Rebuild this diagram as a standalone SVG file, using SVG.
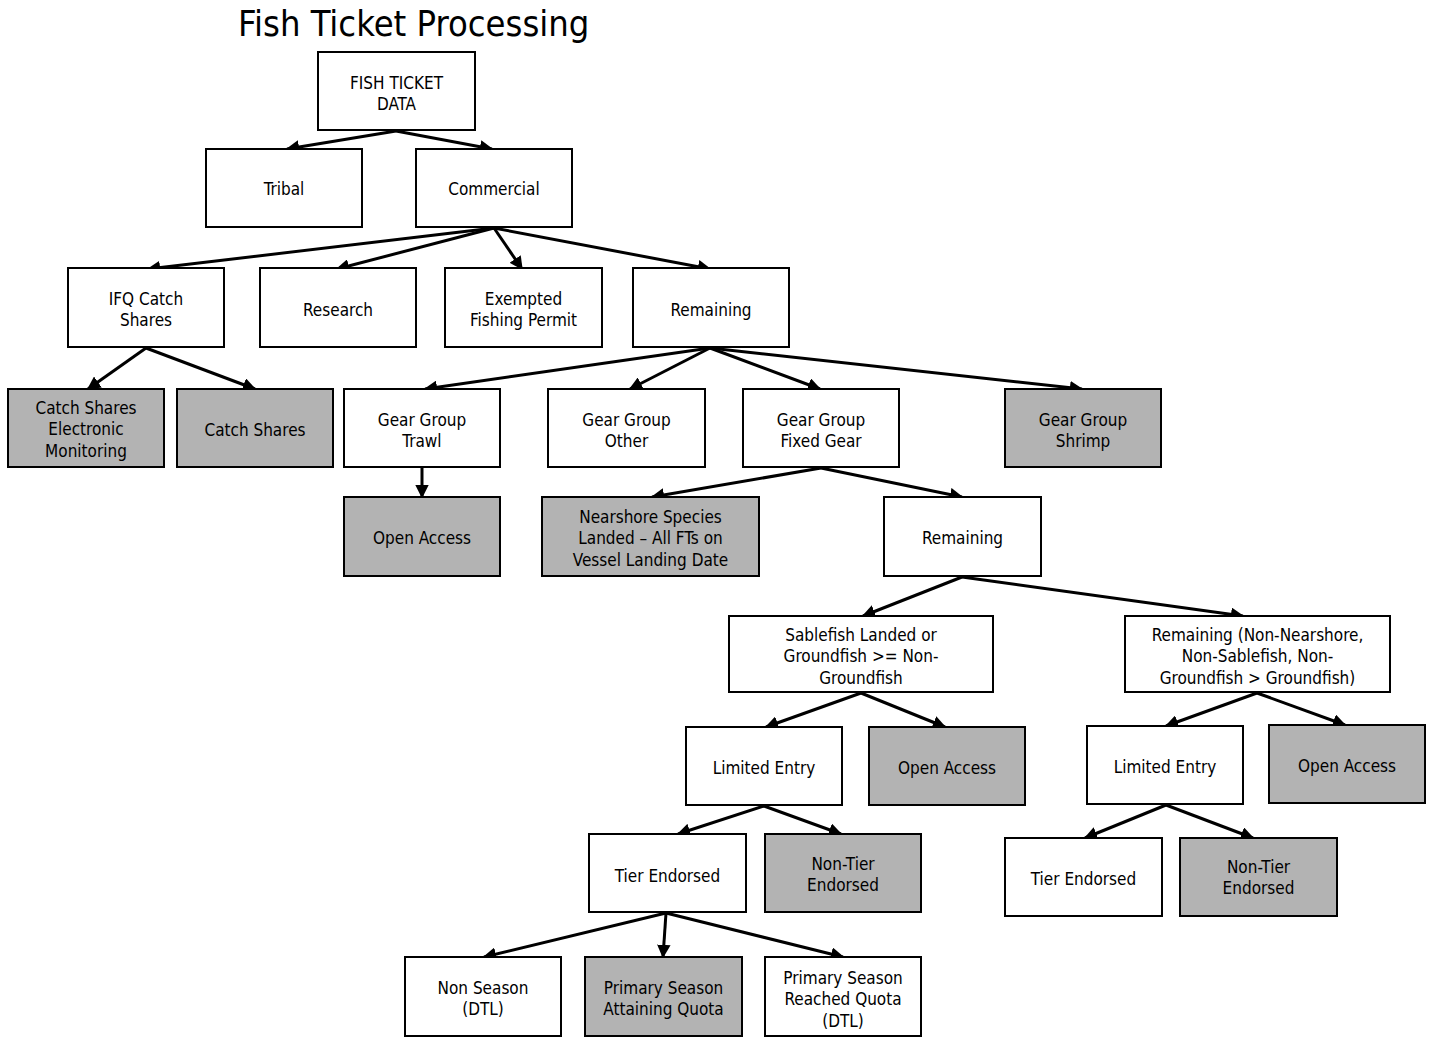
<svg xmlns="http://www.w3.org/2000/svg" width="1435" height="1038" viewBox="0 0 1435 1038">
<style>
.b{fill:#fff;stroke:#000;stroke-width:2}
.g{fill:#b3b3b3;stroke:#000;stroke-width:2}
text{font-family:"DejaVu Sans Condensed","DejaVu Sans",sans-serif;font-size:17px;fill:#000;text-anchor:middle}
.t{font-size:36px;text-anchor:start}
.c line{stroke:#000;stroke-width:3;marker-end:url(#a)}
</style>
<defs>
<marker id="a" viewBox="0 0 10 10" refX="9" refY="5" markerWidth="4.5" markerHeight="4.5" markerUnits="strokeWidth" orient="auto">
<path d="M0,0 L10,5 L0,10 z" fill="#000"/>
</marker>
</defs>
<rect width="1435" height="1038" fill="#fff"/>
<text class="t" x="238" y="36">Fish Ticket Processing</text>

<g class="c">
<line x1="396" y1="131" x2="287" y2="149"/>
<line x1="396" y1="131" x2="492" y2="149"/>
<line x1="494" y1="228" x2="148" y2="269"/>
<line x1="494" y1="228" x2="337" y2="269"/>
<line x1="494" y1="228" x2="522" y2="269"/>
<line x1="494" y1="228" x2="710" y2="269"/>
<line x1="146" y1="348" x2="88" y2="389"/>
<line x1="146" y1="348" x2="255" y2="389"/>
<line x1="710" y1="348" x2="425" y2="389"/>
<line x1="710" y1="348" x2="630" y2="389"/>
<line x1="710" y1="348" x2="820" y2="389"/>
<line x1="710" y1="348" x2="1082" y2="389"/>
<line x1="422" y1="468" x2="422" y2="497"/>
<line x1="821" y1="468" x2="652" y2="497"/>
<line x1="821" y1="468" x2="962" y2="497"/>
<line x1="962" y1="577" x2="863" y2="616"/>
<line x1="962" y1="577" x2="1243" y2="616"/>
<line x1="861" y1="693" x2="766" y2="727"/>
<line x1="861" y1="693" x2="945" y2="727"/>
<line x1="1257" y1="693" x2="1166" y2="726"/>
<line x1="1257" y1="693" x2="1345" y2="725"/>
<line x1="764" y1="806" x2="678" y2="834"/>
<line x1="764" y1="806" x2="841" y2="834"/>
<line x1="1166" y1="805" x2="1085" y2="838"/>
<line x1="1166" y1="805" x2="1253" y2="838"/>
<line x1="666" y1="913" x2="484" y2="957"/>
<line x1="666" y1="913" x2="663" y2="957"/>
<line x1="666" y1="913" x2="843" y2="957"/>
</g>

<g id="n-ftd"><rect class="b" x="318" y="52" width="157" height="78"/><text x="396.5" y="89">FISH TICKET</text><text x="396.5" y="110">DATA</text></g>
<g id="n-tribal"><rect class="b" x="206" y="149" width="156" height="78"/><text x="284" y="195">Tribal</text></g>
<g id="n-commercial"><rect class="b" x="416" y="149" width="156" height="78"/><text x="494" y="195">Commercial</text></g>
<g id="n-ifq"><rect class="b" x="68" y="268" width="156" height="79"/><text x="146" y="305">IFQ Catch</text><text x="146" y="326">Shares</text></g>
<g id="n-research"><rect class="b" x="260" y="268" width="156" height="79"/><text x="338" y="316">Research</text></g>
<g id="n-efp"><rect class="b" x="445" y="268" width="157" height="79"/><text x="523.5" y="305">Exempted</text><text x="523.5" y="326">Fishing Permit</text></g>
<g id="n-remaining1"><rect class="b" x="633" y="268" width="156" height="79"/><text x="711" y="316">Remaining</text></g>
<g id="n-csem"><rect class="g" x="8" y="389" width="156" height="78"/><text x="86" y="414">Catch Shares</text><text x="86" y="435">Electronic</text><text x="86" y="457">Monitoring</text></g>
<g id="n-cs"><rect class="g" x="177" y="389" width="156" height="78"/><text x="255" y="436">Catch Shares</text></g>
<g id="n-trawl"><rect class="b" x="344" y="389" width="156" height="78"/><text x="422" y="426">Gear Group</text><text x="422" y="447">Trawl</text></g>
<g id="n-other"><rect class="b" x="548" y="389" width="157" height="78"/><text x="626.5" y="426">Gear Group</text><text x="626.5" y="447">Other</text></g>
<g id="n-fixed"><rect class="b" x="743" y="389" width="156" height="78"/><text x="821" y="426">Gear Group</text><text x="821" y="447">Fixed Gear</text></g>
<g id="n-shrimp"><rect class="g" x="1005" y="389" width="156" height="78"/><text x="1083" y="426">Gear Group</text><text x="1083" y="447">Shrimp</text></g>
<g id="n-oa-trawl"><rect class="g" x="344" y="497" width="156" height="79"/><text x="422" y="544">Open Access</text></g>
<g id="n-nearshore"><rect class="g" x="542" y="497" width="217" height="79"/><text x="650.5" y="523">Nearshore Species</text><text x="650.5" y="544">Landed – All FTs on</text><text x="650.5" y="566">Vessel Landing Date</text></g>
<g id="n-remaining2"><rect class="b" x="884" y="497" width="157" height="79"/><text x="962.5" y="544">Remaining</text></g>
<g id="n-sablefish"><rect class="b" x="729" y="616" width="264" height="76"/><text x="861" y="641">Sablefish Landed or</text><text x="861" y="662">Groundfish &gt;= Non-</text><text x="861" y="684">Groundfish</text></g>
<g id="n-remaining3"><rect class="b" x="1125" y="616" width="265" height="76"/><text x="1257.5" y="641">Remaining (Non-Nearshore,</text><text x="1257.5" y="662">Non-Sablefish, Non-</text><text x="1257.5" y="684">Groundfish &gt; Groundfish)</text></g>
<g id="n-le1"><rect class="b" x="686" y="727" width="156" height="78"/><text x="764" y="774">Limited Entry</text></g>
<g id="n-oa1"><rect class="g" x="869" y="727" width="156" height="78"/><text x="947" y="774">Open Access</text></g>
<g id="n-le2"><rect class="b" x="1087" y="726" width="156" height="78"/><text x="1165" y="773">Limited Entry</text></g>
<g id="n-oa2"><rect class="g" x="1269" y="725" width="156" height="78"/><text x="1347" y="772">Open Access</text></g>
<g id="n-tier1"><rect class="b" x="589" y="834" width="157" height="78"/><text x="667.5" y="882">Tier Endorsed</text></g>
<g id="n-nontier1"><rect class="g" x="765" y="834" width="156" height="78"/><text x="843" y="870">Non-Tier</text><text x="843" y="891">Endorsed</text></g>
<g id="n-tier2"><rect class="b" x="1005" y="838" width="157" height="78"/><text x="1083.5" y="885">Tier Endorsed</text></g>
<g id="n-nontier2"><rect class="g" x="1180" y="838" width="157" height="78"/><text x="1258.5" y="873">Non-Tier</text><text x="1258.5" y="894">Endorsed</text></g>
<g id="n-nonseason"><rect class="b" x="405" y="957" width="156" height="79"/><text x="483" y="994">Non Season</text><text x="483" y="1015">(DTL)</text></g>
<g id="n-psa"><rect class="g" x="585" y="957" width="157" height="79"/><text x="663.5" y="994">Primary Season</text><text x="663.5" y="1015">Attaining Quota</text></g>
<g id="n-psr"><rect class="b" x="765" y="957" width="156" height="79"/><text x="843" y="984">Primary Season</text><text x="843" y="1005">Reached Quota</text><text x="843" y="1027">(DTL)</text></g>
</svg>
